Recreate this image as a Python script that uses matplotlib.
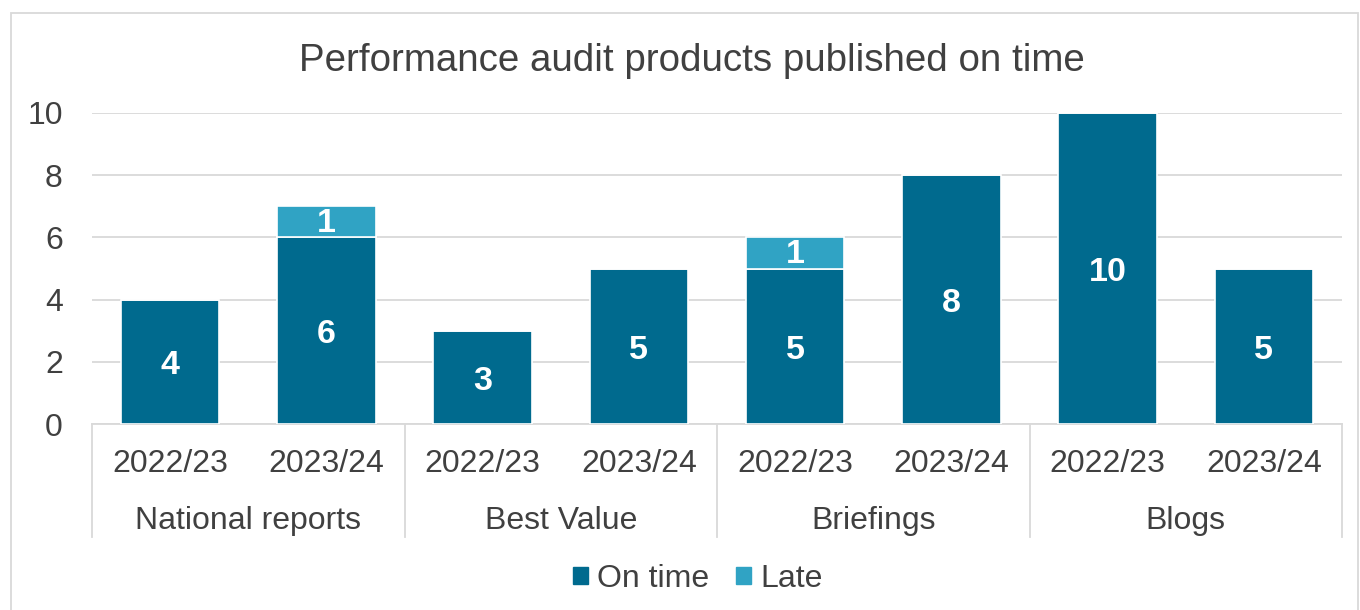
import matplotlib
matplotlib.use("Agg")
import matplotlib.pyplot as plt
import matplotlib.patches as mpatches
import numpy as np

plt.rcParams["font.family"] = ["Liberation Sans", "DejaVu Sans"]

# data
groups = ["National reports", "Best Value", "Briefings", "Blogs"]
years = ["2022/23", "2023/24"]
on_time = [4, 6, 3, 5, 5, 8, 10, 5]
late = [0, 1, 0, 0, 1, 0, 0, 0]

C_ON = "#006A8E"
C_LATE = "#30A3C4"
TXT = "#404040"
GRID = "#D9D9D9"

W, H = 1360, 610
fig = plt.figure(figsize=(W / 100, H / 100), dpi=100)
ax = fig.add_axes([92 / W, 1 - 424 / H, (1342 - 92) / W, (424 - 113) / H])

x = np.arange(len(on_time))
ax.bar(x, on_time, width=0.63, color=C_ON, edgecolor="white", linewidth=1.2, zorder=3)
ax.bar(x, late, bottom=on_time, width=0.63, color=C_LATE, edgecolor="white",
       linewidth=1.2, zorder=3)

lab_off = dict(ha="center", va="center", color="white", fontsize=24.5,
               fontweight="bold", zorder=4)
for xi, v, l in zip(x, on_time, late):
    ax.text(xi, v / 2, str(v), transform=ax.transData + matplotlib.transforms.ScaledTranslation(0, -0.04, fig.dpi_scale_trans), **lab_off)
    if l:
        ax.text(xi, v + l / 2, str(l), transform=ax.transData + matplotlib.transforms.ScaledTranslation(0, -0.02, fig.dpi_scale_trans), **lab_off)

ax.set_xlim(-0.5, len(on_time) - 0.5)
ax.set_ylim(0, 10)
ax.set_yticks(range(0, 11, 2))
ax.yaxis.grid(True, color=GRID, linewidth=1.3, zorder=0)
ax.set_axisbelow(True)
for s in ax.spines.values():
    s.set_visible(False)
ax.tick_params(axis="y", length=0, labelsize=23, labelcolor=TXT, pad=21)
ax.set_xticks([])

# category axis box
trans = ax.get_xaxis_transform()
ax.plot([-0.5, len(on_time) - 0.5], [0, 0], color=GRID, linewidth=1.3,
        transform=trans, clip_on=False, zorder=2)
for b in range(len(groups) + 1):
    xb = -0.5 + 2 * b
    ax.plot([xb, xb], [0, -0.363], color=GRID, linewidth=1.3,
            transform=trans, clip_on=False)
for i, xi in enumerate(x):
    ax.text(xi, -0.129, years[i % 2], ha="center", va="center", fontsize=23,
            color=TXT, transform=trans)
for g, name in enumerate(groups):
    ax.text(2 * g + 0.5, -0.312, name, ha="center", va="center", fontsize=23,
            color=TXT, transform=trans)

fig.text(692 / W, 1 - 61 / H, "Performance audit products published on time",
         ha="center", va="center", fontsize=27.7, color=TXT)

handles = [mpatches.Patch(color=C_ON, label="On time"),
           mpatches.Patch(color=C_LATE, label="Late")]
fig.legend(handles=handles, loc="center", bbox_to_anchor=(698 / W, 1 - 579 / H),
           ncol=2, frameon=False, fontsize=23, labelcolor=TXT,
           handlelength=0.45, handleheight=0.45, handletextpad=0.3,
           columnspacing=0.85)

fig.patches.append(mpatches.Rectangle((11 / W, -0.1), (1358 - 11) / W, 1 - 13 / H + 0.1,
                                      transform=fig.transFigure, fill=False,
                                      edgecolor=GRID, linewidth=1.3))

fig.savefig("out.png", dpi=100)
